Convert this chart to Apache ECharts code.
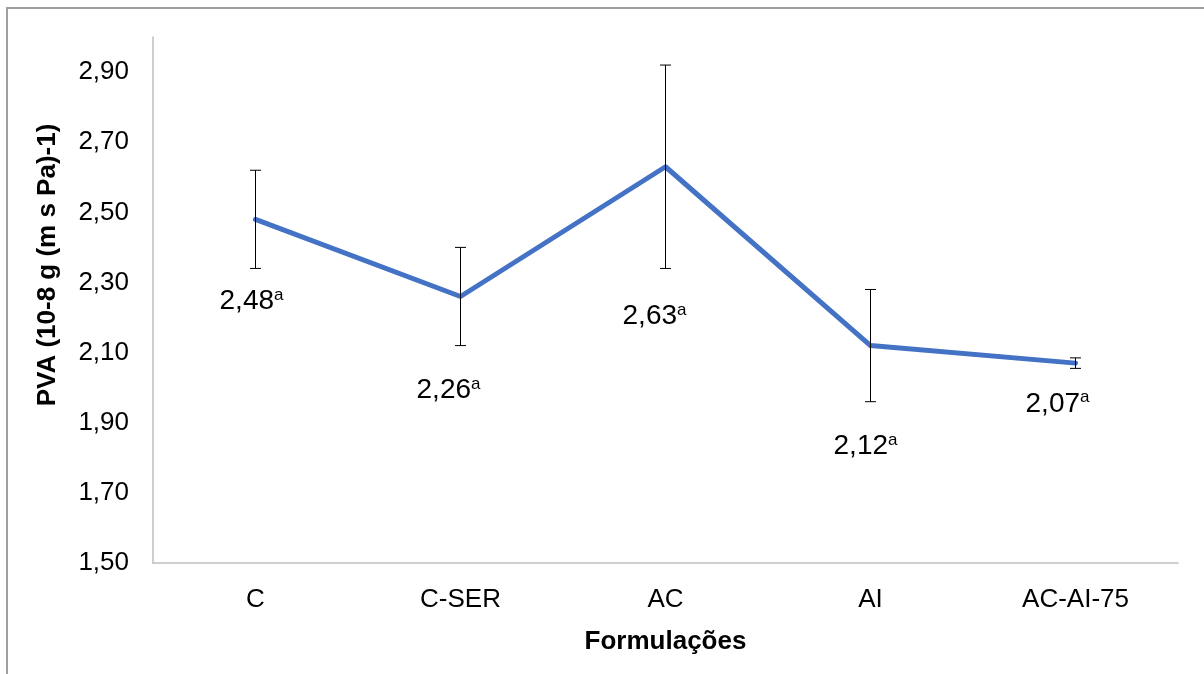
<!DOCTYPE html>
<html>
<head>
<meta charset="utf-8">
<script src="https://cdn.jsdelivr.net/npm/echarts@6/dist/echarts.min.js"></script>
<style>
html,body{margin:0;padding:0;background:#fff;}
#chart{width:1204px;height:674px;}
</style>
</head>
<body>
<div id="chart"></div>
<script>
// ---- data ----
var categories = ['C', 'C-SER', 'AC', 'AI', 'AC-AI-75'];
var pvaValues = [2.48, 2.26, 2.63, 2.12, 2.07];
var pvaErrors = [0.14, 0.14, 0.29, 0.16, 0.015];
var pvaLabels = ['2,48', '2,26', '2,63', '2,12', '2,07'];
var pvaLetters = ['a', 'a', 'a', 'a', 'a'];
var yTicks = { min: 1.5, max: 3.0, interval: 0.2 };

// ---- layout (label nudges in px, relative to the point) ----
var labelNudge = [[-4, 82], [-12, 94], [-11, 150], [-5, 101], [-18, 41]];

var FONT = '"Liberation Sans", Arial, sans-serif';
var chart = echarts.init(document.getElementById('chart'));

var option = {
  animation: false,
  backgroundColor: '#ffffff',
  grid: { left: 153, right: 26, top: 37, bottom: 111, containLabel: false },
  xAxis: {
    type: 'category',
    data: categories,
    boundaryGap: true,
    axisLine: { show: true, lineStyle: { color: '#BFBFBF', width: 1.5 } },
    axisTick: { show: false },
    axisLabel: { color: '#000', fontFamily: FONT, fontSize: 26, margin: 24 },
    name: 'Formulações',
    nameLocation: 'middle',
    nameGap: 66,
    nameTextStyle: { color: '#000', fontFamily: FONT, fontSize: 26, fontWeight: 'bold' },
    splitLine: { show: false }
  },
  yAxis: {
    type: 'value',
    min: yTicks.min,
    max: yTicks.max,
    interval: yTicks.interval,
    axisLine: { show: true, lineStyle: { color: '#BFBFBF', width: 1.5 } },
    axisTick: { show: false },
    splitLine: { show: false },
    axisLabel: {
      color: '#000', fontFamily: FONT, fontSize: 26, margin: 24,
      showMaxLabel: false,
      formatter: function (v) { return v.toFixed(2).replace('.', ','); }
    }
  },
  graphic: [
    {
      type: 'rect', silent: true, z: -10,
      shape: { x: 7, y: 8, width: 1400, height: 900 },
      style: { fill: 'none', stroke: '#A0A0A0', lineWidth: 2 }
    },
    {
      type: 'text', silent: true,
      x: 48, y: 265, rotation: Math.PI / 2,
      style: {
        text: 'PVA (10-8 g (m s Pa)-1)',
        font: 'bold 26px ' + FONT,
        fill: '#000', align: 'center', verticalAlign: 'middle'
      }
    }
  ],
  series: [
    {
      type: 'line',
      data: pvaValues,
      symbol: 'none',
      lineStyle: { color: '#4472C4', width: 5, cap: 'round', join: 'round' },
      z: 2
    },
    {
      type: 'custom',
      data: pvaValues.map(function (v, i) { return [i, v, pvaErrors[i]]; }),
      encode: { x: 0, y: 1 },
      z: 3,
      renderItem: function (params, api) {
        var i = api.value(0), v = api.value(1), e = api.value(2);
        var p = api.coord([i, v]);
        var hi = api.coord([i, v + e]);
        var lo = api.coord([i, v - e]);
        var cw = 5.5;
        var st = { stroke: '#000', lineWidth: 1 };
        var nudge = labelNudge[i];
        return {
          type: 'group',
          children: [
            { type: 'line', shape: { x1: hi[0], y1: hi[1], x2: lo[0], y2: lo[1] }, style: st },
            { type: 'line', shape: { x1: hi[0] - cw, y1: hi[1], x2: hi[0] + cw, y2: hi[1] }, style: st },
            { type: 'line', shape: { x1: lo[0] - cw, y1: lo[1], x2: lo[0] + cw, y2: lo[1] }, style: st },
            {
              type: 'text',
              x: p[0] + nudge[0], y: p[1] + nudge[1],
              style: {
                text: '{v|' + pvaLabels[i] + '}{s|' + pvaLetters[i] + '}',
                align: 'center', verticalAlign: 'middle',
                rich: {
                  v: { fontFamily: FONT, fontSize: 28, color: '#000', lineHeight: 30, verticalAlign: 'middle' },
                  s: { fontFamily: FONT, fontSize: 17, color: '#000', lineHeight: 30, verticalAlign: 'top', padding: [0, 0, 10, 0] }
                }
              }
            }
          ]
        };
      }
    }
  ]
};
chart.setOption(option);
</script>
</body>
</html>
